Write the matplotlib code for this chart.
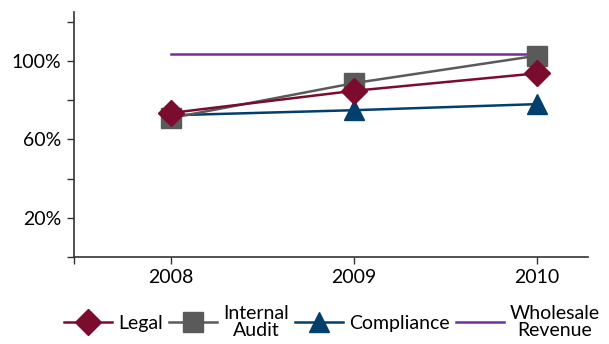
import matplotlib.pyplot as plt
import matplotlib.ticker as mticker

plt.rcParams['font.family'] = ['Lato', 'DejaVu Sans']

years = ['2008', '2009', '2010']
legal = [73.5, 84.8, 93.7]
internal_audit = [70.9, 88.7, 102.7]
compliance = [72.3, 74.9, 78.0]
wholesale_revenue = [103.6, 103.6, 103.6]

x = list(range(len(years)))

fig = plt.figure(figsize=(6.09, 3.44), dpi=100)
ax = fig.add_axes([0.1215, 0.253, 0.844, 0.712])

ax.plot(x, legal, color='#7B0C2E', lw=1.8, marker='D', ms=13, label='Legal', zorder=4)
ax.plot(x, internal_audit, color='#5A5A5A', lw=1.8, marker='s', ms=14, label='Internal\nAudit', zorder=3)
ax.plot(x, compliance, color='#023F6C', lw=1.8, marker='^', ms=14, label='Compliance', zorder=2)
ax.plot(x, wholesale_revenue, color='#7030A0', lw=1.8, label='Wholesale\nRevenue', zorder=1)

ax.set_xlim(-0.53, 2.28)
ax.set_ylim(0, 125)
ax.set_xticks(x)
ax.set_xticklabels(years)
ax.xaxis.set_minor_locator(mticker.FixedLocator([-0.53]))
ax.set_yticks([0, 20, 40, 60, 80, 100, 120])
ax.set_yticklabels(['', '20%', '', '60%', '', '100%', ''])

for s in ['top', 'right']:
    ax.spines[s].set_visible(False)
for s in ['left', 'bottom']:
    ax.spines[s].set_color('#333333')
    ax.spines[s].set_linewidth(1.2)
ax.tick_params(axis='both', which='both', length=5, width=1, color='#333333',
               labelsize=14, pad=4)

leg = fig.legend(loc='center', bbox_to_anchor=(0.545, 0.064), ncol=4, frameon=False,
                 fontsize=14, handlelength=2.5, handletextpad=0.3, columnspacing=0.3,
                 labelspacing=0.1)
for t in leg.get_texts():
    t.set_multialignment('center')
    t.set_linespacing(0.95)

fig.savefig('out.png', dpi=100)
